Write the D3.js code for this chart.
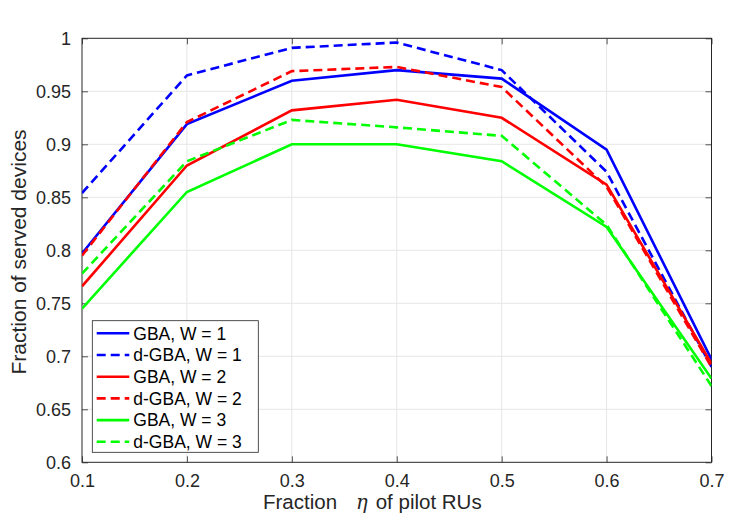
<!DOCTYPE html>
<html><head><meta charset="utf-8">
<script src="https://cdn.jsdelivr.net/npm/d3@7"></script>
<style>body{margin:0;background:#fff}svg{display:block}</style>
</head><body>
<svg id="c" width="747" height="514"></svg>
<script>
const etaValues = [0.1, 0.2, 0.3, 0.4, 0.5, 0.6, 0.7];
const gbaW1  = [0.797, 0.919, 0.960, 0.970, 0.962, 0.895, 0.697];
const dgbaW1 = [0.854, 0.965, 0.991, 0.996, 0.970, 0.874, 0.690];
const gbaW2  = [0.766, 0.880, 0.932, 0.942, 0.925, 0.862, 0.693];
const dgbaW2 = [0.795, 0.921, 0.969, 0.973, 0.954, 0.860, 0.690];
const gbaW3  = [0.745, 0.855, 0.900, 0.900, 0.884, 0.822, 0.679];
const dgbaW3 = [0.778, 0.884, 0.923, 0.916, 0.908, 0.824, 0.672];
const xTicks = [0.1, 0.2, 0.3, 0.4, 0.5, 0.6, 0.7];
const yTicks = [0.6, 0.65, 0.7, 0.75, 0.8, 0.85, 0.9, 0.95, 1];
const seriesNames = ["GBA, W = 1","d-GBA, W = 1","GBA, W = 2","d-GBA, W = 2","GBA, W = 3","d-GBA, W = 3"];
const seriesValues = [gbaW1, dgbaW1, gbaW2, dgbaW2, gbaW3, dgbaW3];
const seriesColors = ["#0000ff","#0000ff","#ff0000","#ff0000","#00ff00","#00ff00"];
const seriesDashed = [false,true,false,true,false,true];

const L=82, R=711.5, T=38.3, B=462.3;
const svg=d3.select("#c");
const x=d3.scaleLinear().domain([0.1,0.7]).range([L,R]);
const y=d3.scaleLinear().domain([0.6,1]).range([B,T]);
const font="'Liberation Sans', Arial, Helvetica, sans-serif";
const axisCol="#262626";

// grid
const g=svg.append("g");
g.selectAll(".gx").data(xTicks.slice(1,-1)).enter().append("line")
 .attr("x1",d=>x(d)).attr("x2",d=>x(d)).attr("y1",T).attr("y2",B)
 .attr("stroke","#e6e6e6").attr("stroke-width",1);
g.selectAll(".gy").data(yTicks.slice(1,-1)).enter().append("line")
 .attr("y1",d=>y(d)).attr("y2",d=>y(d)).attr("x1",L).attr("x2",R)
 .attr("stroke","#e6e6e6").attr("stroke-width",1);

// axes
const tl=6;
const xb=svg.append("g").attr("transform",`translate(0,${B})`)
 .call(d3.axisBottom(x).tickValues(xTicks).tickSize(-tl).tickPadding(12).tickFormat(d3.format(".1f")));
const xt=svg.append("g").attr("transform",`translate(0,${T})`)
 .call(d3.axisTop(x).tickValues(xTicks).tickSize(-tl).tickFormat(""));
const yl=svg.append("g").attr("transform",`translate(${L},0)`)
 .call(d3.axisLeft(y).tickValues(yTicks).tickSize(-tl).tickPadding(11).tickFormat(d=>d===1?"1":d3.format("")(+d.toFixed(2))));
const yr=svg.append("g").attr("transform",`translate(${R},0)`)
 .call(d3.axisRight(y).tickValues(yTicks).tickSize(-tl).tickFormat(""));
[xb,xt,yl,yr].forEach(a=>{
  a.select(".domain").remove();
  a.selectAll("line").attr("stroke",axisCol).attr("stroke-width",0.8);
  a.selectAll("text").attr("fill",axisCol).style("font-family",font).style("font-size","18px");
});
svg.append("rect").attr("x",L).attr("y",T).attr("width",R-L).attr("height",B-T)
 .attr("fill","none").attr("stroke",axisCol).attr("stroke-width",1);

// lines
const line=d3.line().x((d,i)=>x(etaValues[i])).y(d=>y(d));
svg.append("clipPath").attr("id","clp").append("rect")
 .attr("x",L).attr("y",T-2).attr("width",R-L).attr("height",B-T+4);
seriesValues.forEach((vals,i)=>{
  svg.append("path").datum(vals).attr("d",line).attr("fill","none")
   .attr("stroke",seriesColors[i]).attr("stroke-width",2.6)
   .attr("stroke-dasharray",seriesDashed[i]?"9,5":null)
   .attr("clip-path","url(#clp)");
});

// legend
const lx=92.3, ly=320.7, lw=166, lh=131.6;
svg.append("rect").attr("x",lx).attr("y",ly).attr("width",lw).attr("height",lh)
 .attr("fill","#fff").attr("stroke",axisCol).attr("stroke-width",0.8);
seriesNames.forEach((n,i)=>{
  const yy=333.3+i*21.7;
  svg.append("line").attr("x1",96.7).attr("x2",129.3).attr("y1",yy).attr("y2",yy)
   .attr("stroke",seriesColors[i]).attr("stroke-width",2.6)
   .attr("stroke-dasharray",seriesDashed[i]?"9,5":null);
  svg.append("text").attr("x",133.3).attr("y",yy+6.2).text(n)
   .attr("fill","#000").style("font-family",font).style("font-size","17.5px");
});

// axis labels
const xl=svg.append("text").attr("y",509)
 .attr("fill",axisCol).style("font-family",font).style("font-size","20.5px");
xl.append("tspan").attr("x",263).text("Fraction");
xl.append("tspan").attr("x",356).style("font-family","'DejaVu Serif','Liberation Serif',serif").style("font-style","italic").style("font-size","19.5px").text("η");
xl.append("tspan").attr("x",370).text(" of pilot RUs");
svg.append("text").attr("transform","translate(26,252) rotate(-90)").attr("text-anchor","middle")
 .attr("fill",axisCol).style("font-family",font).style("font-size","21px").text("Fraction of served devices");
</script>
</body></html>
